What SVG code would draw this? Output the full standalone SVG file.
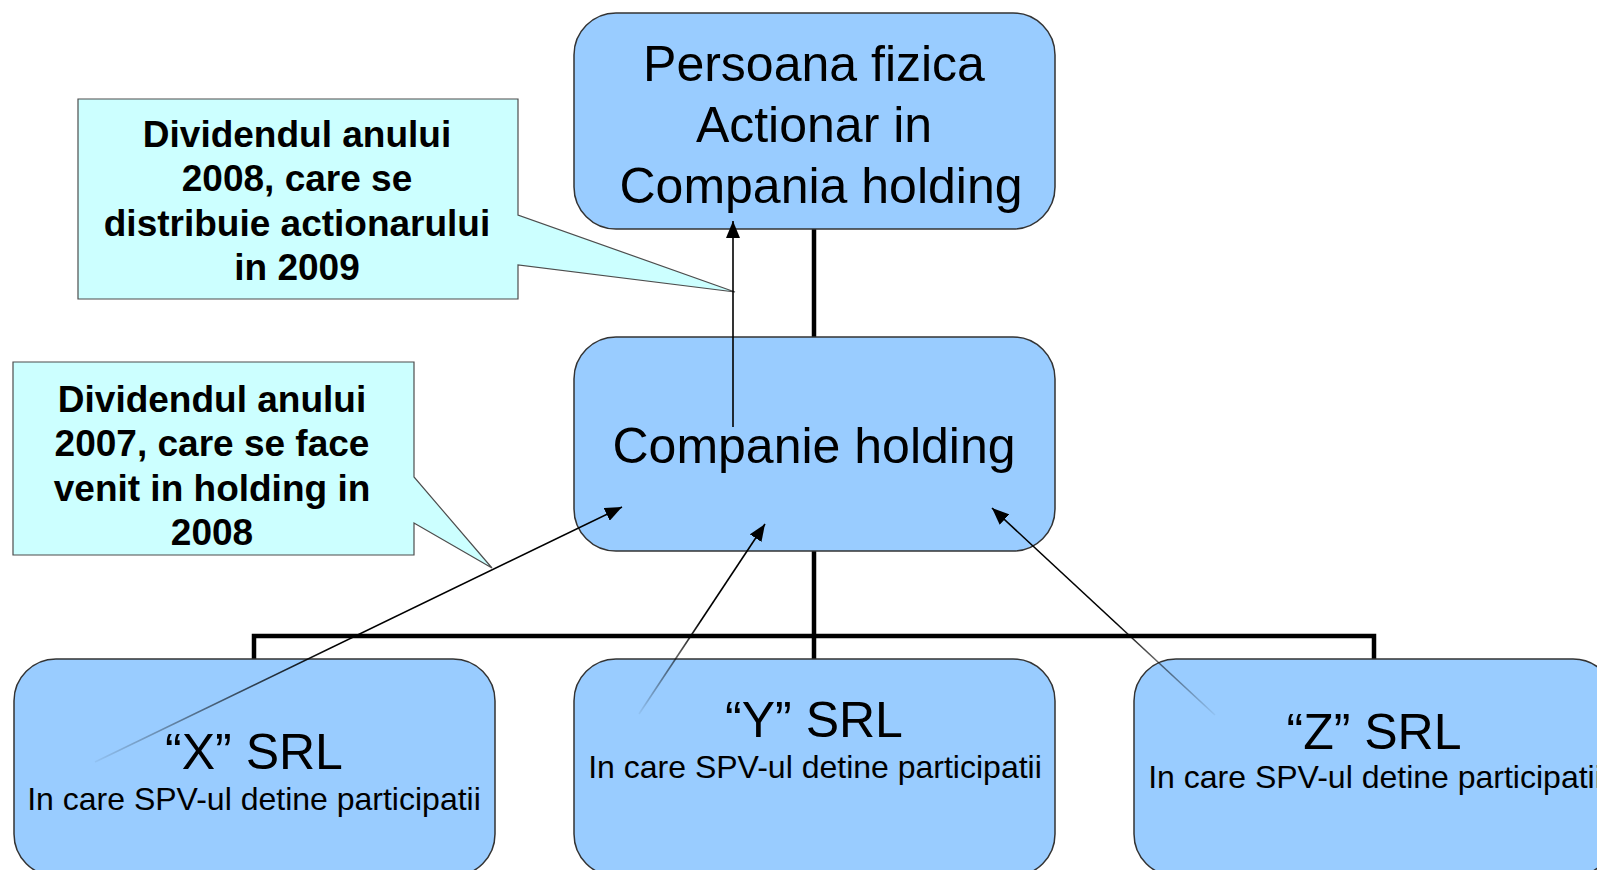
<svg xmlns="http://www.w3.org/2000/svg" width="1597" height="870" viewBox="0 0 1597 870">
<style>
.node{fill:#99CCFF;stroke:#333333;stroke-width:1.5}
.callout{fill:#CCFFFF;stroke:#4d4d4d;stroke-width:1.2}
.big{font-family:"Liberation Sans",Arial,sans-serif;font-size:50px;fill:#000;text-anchor:middle}
.small{font-family:"Liberation Sans",Arial,sans-serif;font-size:32px;fill:#000;text-anchor:middle}
.note{font-family:"Liberation Sans",Arial,sans-serif;font-size:37px;font-weight:bold;fill:#000;text-anchor:middle}
.tree{fill:none;stroke:#000;stroke-width:4.5}
.arrow{fill:none;stroke-width:1.6;marker-end:url(#ah)}
</style>
<defs>
<marker id="ah" markerUnits="userSpaceOnUse" markerWidth="18" markerHeight="14" refX="17" refY="7" orient="auto">
<path d="M0,0 L17,7 L0,14 z" fill="#000"/>
</marker>
<linearGradient id="gx" gradientUnits="userSpaceOnUse" x1="95" y1="762" x2="622" y2="507">
<stop offset="0" stop-color="#000" stop-opacity="0.05"/>
<stop offset="0.45" stop-color="#000" stop-opacity="1"/>
<stop offset="1" stop-color="#000" stop-opacity="1"/>
</linearGradient>
<linearGradient id="gy" gradientUnits="userSpaceOnUse" x1="639" y1="714" x2="765" y2="524">
<stop offset="0" stop-color="#000" stop-opacity="0.05"/>
<stop offset="0.5" stop-color="#000" stop-opacity="1"/>
<stop offset="1" stop-color="#000" stop-opacity="1"/>
</linearGradient>
<linearGradient id="gz" gradientUnits="userSpaceOnUse" x1="1215" y1="715" x2="992" y2="508">
<stop offset="0" stop-color="#000" stop-opacity="0.05"/>
<stop offset="0.45" stop-color="#000" stop-opacity="1"/>
<stop offset="1" stop-color="#000" stop-opacity="1"/>
</linearGradient>
</defs>
<rect width="1597" height="870" fill="#fff"/>
<g id="tree-connectors">
<path class="tree" d="M814,229 V337"/>
<path class="tree" d="M814,551 V659 M254,659 V636 H1374 V659"/>
</g>
<g id="node-persoana">
<rect class="node" x="574" y="13" width="481" height="216" rx="42"/>
<text class="big" x="814" y="81">Persoana fizica</text>
<text class="big" x="814" y="142">Actionar in</text>
<text class="big" x="821" y="203">Compania holding</text>
</g>
<g id="node-holding">
<rect class="node" x="574" y="337" width="481" height="214" rx="42"/>
<text class="big" x="814" y="463">Companie holding</text>
</g>
<g id="node-x">
<rect class="node" x="14" y="659" width="481" height="217" rx="42"/>
<text class="big" x="254" y="769">“X” SRL</text>
<text class="small" x="254" y="810">In care SPV-ul detine participatii</text>
</g>
<g id="node-y">
<rect class="node" x="574" y="659" width="481" height="217" rx="42"/>
<text class="big" x="814" y="737">“Y” SRL</text>
<text class="small" x="815" y="778">In care SPV-ul detine participatii</text>
</g>
<g id="node-z">
<rect class="node" x="1134" y="659" width="481" height="217" rx="42"/>
<text class="big" x="1374" y="749">“Z” SRL</text>
<text class="small" x="1375" y="788">In care SPV-ul detine participatii</text>
</g>
<g id="callout-2008">
<path class="callout" d="M78,99 H518 V215 L735,292 L518,265 V299 H78 Z"/>
<text class="note" x="297" y="147">Dividendul anului</text>
<text class="note" x="297" y="191">2008, care se</text>
<text class="note" x="297" y="236">distribuie actionarului</text>
<text class="note" x="297" y="280">in 2009</text>
</g>
<g id="callout-2007">
<path class="callout" d="M13,362 H414 V477 L492,568 L414,523 V555 H13 Z"/>
<text class="note" x="212" y="412">Dividendul anului</text>
<text class="note" x="212" y="456">2007, care se face</text>
<text class="note" x="212" y="501">venit in holding in</text>
<text class="note" x="212" y="545">2008</text>
</g>
<g id="arrows">
<line class="arrow" stroke="#000" x1="733" y1="427" x2="733" y2="221"/>
<line class="arrow" stroke="url(#gx)" x1="95" y1="762" x2="622" y2="507"/>
<line class="arrow" stroke="url(#gy)" x1="639" y1="714" x2="765" y2="524"/>
<line class="arrow" stroke="url(#gz)" x1="1215" y1="715" x2="992" y2="508"/>
</g>
</svg>
